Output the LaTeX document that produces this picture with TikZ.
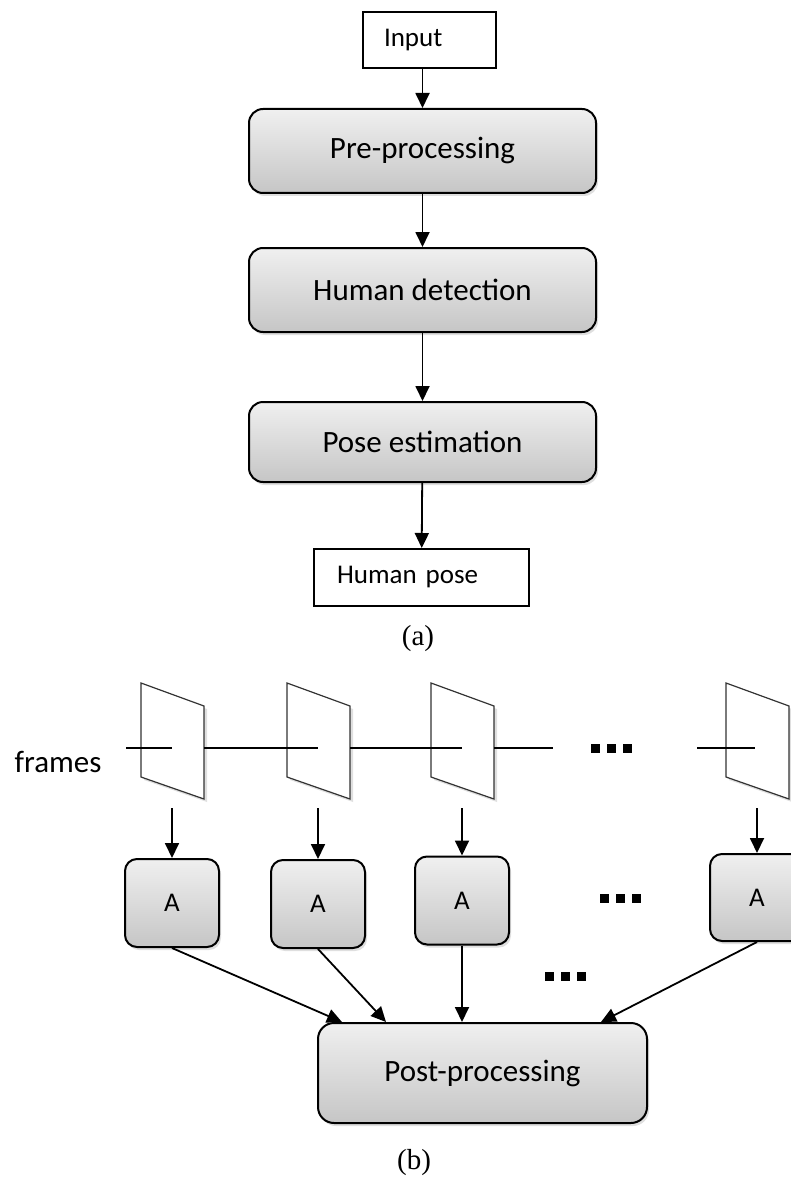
\documentclass[tikz,border=0pt]{standalone}
\usepackage{fontspec}
\setmainfont{Carlito}
\newfontfamily\capfont{Liberation Serif}
\usetikzlibrary{arrows.meta,shadows}

\begin{document}
\begin{tikzpicture}[x=1pt, y=-1pt, >={Triangle[width=14pt,length=15pt]}]
% Define styles
\tikzstyle{stage} = [rectangle, rounded corners=14pt, minimum width=347pt, minimum height=84pt, line width=2pt, draw=black, top color=gray!12, bottom color=gray!45, drop shadow={opacity=0.25, shadow xshift=2pt, shadow yshift=-3pt}, font=\fontsize{31}{36}\selectfont]
\tikzstyle{io} = [rectangle, draw=black, line width=2pt, fill=white, inner xsep=21pt, minimum height=56pt, align=left, font=\fontsize{27}{32}\selectfont]
\tikzstyle{abox} = [stage, rounded corners=12pt, minimum width=94pt, minimum height=88pt, font=\fontsize{27}{32}\selectfont]
\tikzstyle{frame} = [draw=black!80, line width=1.2pt, fill=white, drop shadow={opacity=0.25, shadow xshift=3pt, shadow yshift=-3pt}]
\tikzstyle{track} = [line width=1.5pt]
\tikzstyle{arrow} = [line width=1.8pt, ->]
\tikzstyle{caption} = [font=\capfont\fontsize{29}{34}\selectfont]

\useasboundingbox (0,0) rectangle (791,1177);
\clip (0,0) rectangle (791,1177);

% (a) Draw nodes
\node [io, text width=91pt] (input) at (429.5,40) {Input};
\node [stage] (preproc) at (422.5,151) {Pre-processing};
\node [stage] (humdet) at (422.5,290) {Human detection};
\node [stage, minimum height=80pt] (poseest) at (422.5,442) {Pose estimation};
\node [io, inner xsep=23pt, text width=169pt, minimum height=57pt] (humpose) at (421.5,577.5) {Human pose};
\node [caption] (capa) at (418,639) {(a)};

% (a) Draw arrows
\draw [arrow] (input.south -| preproc.north) -- (preproc.north);
\draw [arrow] (preproc) -- (humdet);
\draw [arrow] (humdet) -- (poseest);
\draw [arrow] (poseest) -- (humpose);

% (b) Frames
\node [anchor=base, font=\fontsize{31}{36}\selectfont] (frameslbl) at (58,772) {frames};
\foreach \x/\n in {172/1, 318/2, 462/3, 757/4} {
  \draw [frame] (\x-31,683) -- (\x+32,706) -- (\x+32,799) -- (\x-31,777) -- cycle;
  \coordinate (f\n) at (\x,808);
}
\draw [track] (126,748) -- (172,748);
\draw [track] (204,748) -- (318,748);
\draw [track] (350,748) -- (462,748);
\draw [track] (494,748) -- (553,748);
\draw [track] (697,748) -- (755,748);

% dots
\foreach \x/\y in {595/748, 604/898, 549/976}
  \foreach \d in {0,16,32}
    \fill (\x+\d-4,\y-4) rectangle +(8.5,8.5);

% (b) Draw nodes
\node [abox] (a1) at (172,903) {A};
\node [abox] (a2) at (318,904) {A};
\node [abox] (a3) at (462,900.5) {A};
\node [abox, minimum height=87pt] (a4) at (757,897.5) {A};
\node [stage, minimum width=329pt, minimum height=100pt, rounded corners=16pt] (post) at (482.5,1073) {Post-processing};
\node [caption] (capb) at (414,1163) {(b)};

% (b) Draw arrows
\draw [arrow] (f1) -- (a1);
\draw [arrow] (f2) -- (a2);
\draw [arrow] (f3) -- (a3);
\draw [arrow] (f4) -- (a4);
\draw [arrow] (a1.south) -- ([xshift=25pt]post.north west);
\draw [arrow] (a2.south) -- ([xshift=69pt]post.north west);
\draw [arrow] (a3.south) -- (a3.south |- post.north);
\draw [arrow] (a4.south) -- ([xshift=-47pt]post.north east);
\end{tikzpicture}
\end{document}
